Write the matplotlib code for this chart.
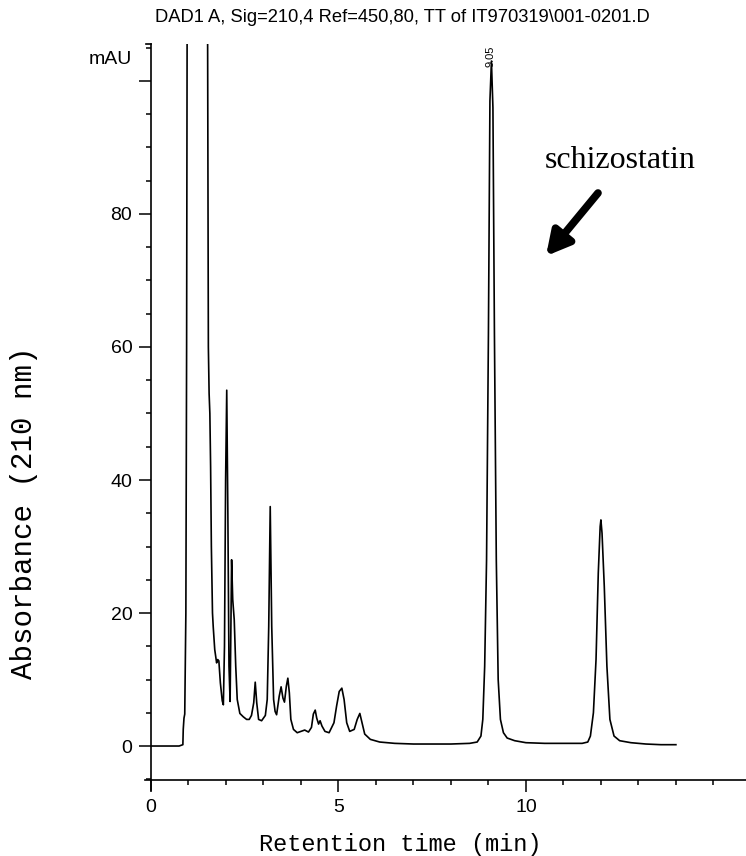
import matplotlib
matplotlib.use("Agg")
import matplotlib.pyplot as plt
from matplotlib.ticker import MultipleLocator
from matplotlib.lines import Line2D

# chromatogram trace (min, mAU); values above the top are off-scale
trace_t = [0.00, 0.75, 0.85, 0.86, 0.88, 0.90, 0.93, 0.95, 0.97, 1.50, 1.53, 1.55, 1.57, 1.59,
           1.61, 1.64, 1.66, 1.70, 1.75, 1.78, 1.81, 1.85, 1.90, 1.93, 1.96, 1.99, 2.02, 2.05,
           2.08, 2.11, 2.13, 2.15, 2.18, 2.22, 2.26, 2.30, 2.37, 2.46, 2.55, 2.62, 2.68, 2.74,
           2.78, 2.82, 2.87, 2.95, 3.05, 3.10, 3.14, 3.18, 3.22, 3.27, 3.31, 3.35, 3.42, 3.47,
           3.52, 3.56, 3.61, 3.65, 3.69, 3.73, 3.80, 3.90, 4.00, 4.10, 4.20, 4.28, 4.33, 4.38,
           4.42, 4.47, 4.51, 4.56, 4.64, 4.75, 4.88, 4.95, 5.02, 5.09, 5.15, 5.22, 5.30, 5.42,
           5.50, 5.57, 5.63, 5.70, 5.85, 6.10, 6.50, 7.00, 7.50, 8.00, 8.50, 8.70, 8.80, 8.85,
           8.90, 8.95, 9.00, 9.04, 9.08, 9.12, 9.16, 9.21, 9.26, 9.32, 9.40, 9.50, 9.70, 10.00,
           10.50, 11.00, 11.50, 11.65, 11.72, 11.80, 11.87, 11.93, 11.98, 12.00, 12.03, 12.09,
           12.16, 12.24, 12.35, 12.50, 12.80, 13.20, 13.60, 14.00]
trace_a = [0.0, 0.0, 0.2, 2.5, 4.2, 4.8, 20, 60, 130, 130, 60, 53, 50, 42,
           30, 20, 17.9, 14.5, 12.5, 13.0, 12.8, 9.5, 6.8, 6.2, 15, 40, 53.5, 35,
           12, 6.7, 18, 28, 22, 19, 12, 7, 4.9, 4.4, 4.0, 4.0, 4.6, 6.5,
           9.6, 6.5, 4.0, 3.8, 4.6, 7, 17.9, 36, 18, 7, 5.2, 4.7, 7.5, 8.9,
           7.2, 6.6, 9, 10.2, 8, 4.0, 2.5, 2.0, 2.2, 2.4, 2.1, 2.8, 4.8, 5.4,
           4.2, 3.3, 3.8, 3.0, 2.2, 2.0, 3.5, 6.0, 8.2, 8.7, 7.0, 3.5, 2.2, 2.5,
           4.0, 4.9, 3.5, 1.8, 1.0, 0.6, 0.4, 0.3, 0.3, 0.3, 0.4, 0.6, 1.5, 4,
           12, 28, 62, 97, 103, 96, 62, 28, 10, 4, 2.0, 1.2, 0.8, 0.5,
           0.4, 0.4, 0.4, 0.6, 1.5, 5, 13, 26, 33, 34, 32, 24,
           12, 4, 1.5, 0.8, 0.5, 0.3, 0.2, 0.2]

y_ticks = [0, 20, 40, 60, 80, 100]
y_labels = ["0", "20", "40", "60", "80", ""]
x_ticks = [0, 5, 10]
x_labels = ["0", "5", "10"]
peak_rt = 9.05

sans = ["Liberation Sans", "DejaVu Sans"]
mono = ["Liberation Mono", "DejaVu Sans Mono"]
serif = ["Liberation Serif", "DejaVu Serif"]

fig = plt.figure(figsize=(7.46, 8.56), dpi=100)
ax = fig.add_axes([151 / 746, 76 / 856, 595 / 746, 736 / 856])

ax.plot(trace_t, trace_a, color="black", lw=1.2)
ax.set_xlim(0, 15.87)
ax.set_ylim(-5.11, 105.56)

for s in ["top", "right"]:
    ax.spines[s].set_visible(False)
for s in ["left", "bottom"]:
    ax.spines[s].set_linewidth(1.2)

ax.set_xticks(x_ticks)
ax.set_xticklabels(x_labels, family=sans, fontsize=14)
ax.set_yticks(y_ticks)
ax.set_yticklabels(y_labels, family=sans, fontsize=14)
ax.xaxis.set_minor_locator(MultipleLocator(1))
ax.yaxis.set_minor_locator(MultipleLocator(5))
ax.tick_params(which="major", length=8.5, width=1.1, pad=5)
ax.tick_params(which="minor", length=3.6, width=1.1)

# little overhangs where the two axis lines cross, and the cap at the top
ax.add_line(Line2D([0, 0], [0, -0.014], transform=ax.transAxes, color="black", lw=1.2, clip_on=False))
ax.add_line(Line2D([-0.01, 0], [0, 0], transform=ax.transAxes, color="black", lw=1.2, clip_on=False))
ax.add_line(Line2D([-0.008, 0], [1, 1], transform=ax.transAxes, color="black", lw=1.2, clip_on=False))

# retention time printed on top of the main peak
ax.text(peak_rt, 105.3, f"{peak_rt:.2f}", rotation=90, ha="center", va="top",
        family=sans, fontsize=8)

fig.text(132 / 746, 1 - 59 / 856, "mAU", ha="right", va="center", family=sans, fontsize=14)
fig.text(402 / 746, 1 - 18 / 856, "DAD1 A, Sig=210,4 Ref=450,80, TT of IT970319\\001-0201.D",
         ha="center", va="center", family=sans, fontsize=13.2)
fig.text(24 / 746, 1 - 513 / 856, "Absorbance (210 nm)", rotation=90, ha="center", va="center",
         family=mono, fontsize=21)
fig.text(400 / 746, 1 - 845 / 856, "Retention time (min)", ha="center", va="center",
         family=mono, fontsize=17)

fig.text(620 / 746, 1 - 160 / 856, "schizostatin", ha="center", va="center", family=serif, fontsize=23)
ax.annotate("", xy=(546 / 746, 1 - 256 / 856), xytext=(598 / 746, 1 - 193 / 856),
            xycoords="figure fraction", textcoords="figure fraction",
            arrowprops=dict(arrowstyle="-|>,head_width=0.75,head_length=1.4", lw=5.5, color="black",
                            shrinkA=0, shrinkB=0))

fig.savefig("out.png", dpi=100)
